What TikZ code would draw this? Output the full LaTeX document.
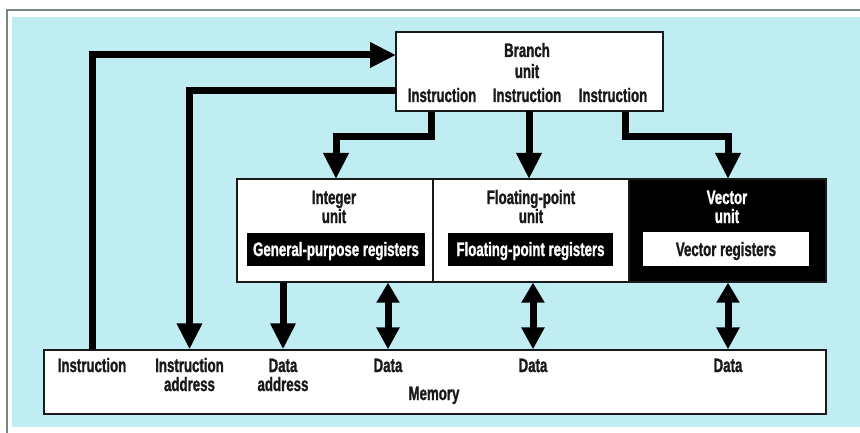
\documentclass[tikz,border=0pt]{standalone}
\usepackage{fontspec}
\setmainfont{Liberation Sans}[FakeStretch=0.68,BoldFeatures={FakeBold=1.2}]
\usetikzlibrary{arrows.meta}
\definecolor{bgcyan}{RGB}{192,237,242}
\definecolor{frame}{RGB}{120,135,130}
\definecolor{ink}{RGB}{25,25,25}
\begin{document}
\begin{tikzpicture}[x=1pt,y=-1pt,
  lbl/.style={font=\fontsize{19.5}{19}\selectfont\bfseries, text=ink, inner sep=0pt, anchor=base, align=center},
  box/.style={draw=ink, line width=1.3pt, fill=white, inner sep=0pt},
  regbox/.style={fill=black, inner sep=0pt},
  arr/.style={line width=7pt, draw=black, line join=miter, -{Triangle[length=26pt,width=24pt]}},
  darr/.style={line width=7pt, draw=black, {Triangle[length=20pt,width=22pt]}-{Triangle[length=22pt,width=22pt]}}
]
\useasboundingbox (0,0) rectangle (860,433);
\fill[white] (0,0) rectangle (860,433);
\fill[bgcyan] (12,17) rectangle (860,427);
\draw[frame, line width=1.2pt] (7,433) -- (7,10) -- (860,10);

% boxes
\node[box, minimum width=267pt, minimum height=79pt] (branch) at (529.5,71.5) {};
\node[box, minimum width=196pt, minimum height=103pt] (int) at (335,230.5) {};
\node[box, minimum width=196pt, minimum height=103pt] (fp) at (531,230.5) {};
\node[box, fill=black, minimum width=197pt, minimum height=103pt] (vec) at (727.5,230.5) {};
\node[box, minimum width=782pt, minimum height=64pt] (mem) at (435,382) {};

\node[regbox, minimum width=178pt, minimum height=33pt] (gpr) at (336,249.5) {};
\node[regbox, minimum width=165pt, minimum height=33pt] (fpr) at (530.5,249.5) {};
\node[fill=white, inner sep=0pt, minimum width=166pt, minimum height=34pt] (vr) at (726,249) {};

% branch texts (base anchor = baseline of last line)
\node[lbl, font=\fontsize{19.5}{21}\selectfont\bfseries] (bt) at (527,78) {Branch\\unit};
\node[lbl] (bi1) at (442,102) {Instruction};
\node[lbl] (bi2) at (527,102) {Instruction};
\node[lbl] (bi3) at (613,102) {Instruction};

% unit texts
\node[lbl] (it1) at (334,223) {Integer\\unit};
\node[lbl] (ft1) at (531,223) {Floating-point\\unit};
\node[lbl, text=white] (vt1) at (727,223) {Vector\\unit};
\node[lbl, text=white] (gprt) at (336,256) {General-purpose registers};
\node[lbl, text=white] (fprt) at (530.5,256) {Floating-point registers};
\node[lbl] (vrt) at (726,256) {Vector registers};

% memory texts
\node[lbl] (mI) at (92,372) {Instruction};
\node[lbl] (mIA) at (189.5,391) {Instruction\\address};
\node[lbl] (mDA) at (283,391) {Data\\address};
\node[lbl] (mD1) at (388,372) {Data};
\node[lbl] (mD2) at (533,372) {Data};
\node[lbl] (mD3) at (728,372) {Data};
\node[lbl] (mM) at (434,400) {Memory};

% bend coordinates
\coordinate (b1) at (396,55);
\coordinate (b2) at (396,91);
\coordinate (c1) at (431,137);
\coordinate (c3) at (625,137);

% connectors
\draw[arr] (mI |- mem.north) |- (b1);
\draw[arr] (b2) -| (mIA |- mem.north);
\draw[arr] (c1 |- branch.south) -- (c1) -| (336,179);
\draw[arr] (529,111) -- (529,179);
\draw[arr] (c3 |- branch.south) -- (c3) -| (728,179);
\draw[arr] (mDA |- int.south) -- (mDA |- mem.north);
\draw[darr] (mD1 |- int.south) -- (mD1 |- mem.north);
\draw[darr] (mD2 |- fp.south) -- (mD2 |- mem.north);
\draw[darr] (mD3 |- vec.south) -- (mD3 |- mem.north);
\end{tikzpicture}
\end{document}
